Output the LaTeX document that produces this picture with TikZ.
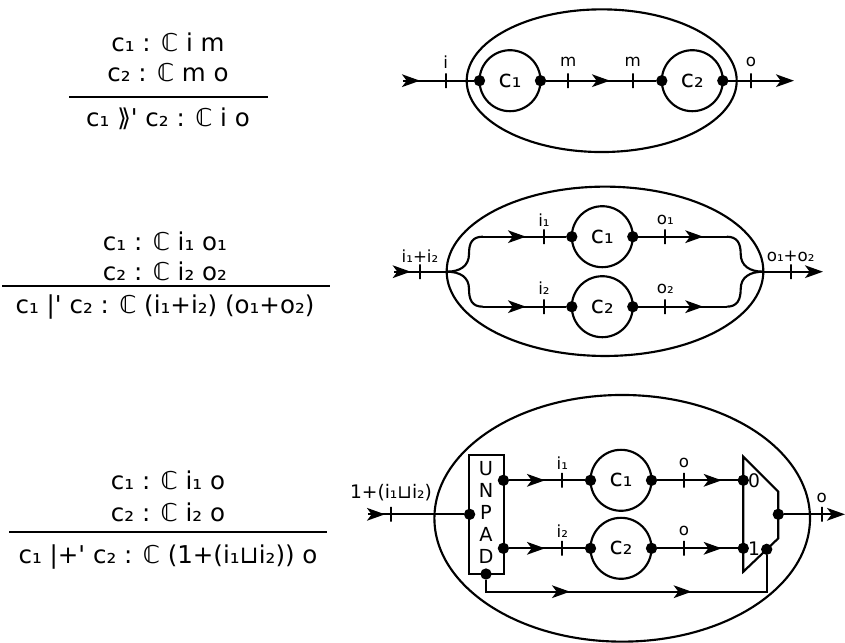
\documentclass[tikz,border=0pt]{standalone}
\usepackage{fontspec}
\setmainfont{DejaVu Sans}
\usetikzlibrary{arrows.meta,shapes.geometric}

\tikzset{
  wire/.style={line width=1.6pt},
  arr/.style={wire,-{Stealth[length=13.5pt,width=9.5pt,inset=3.5pt]}},
  blob/.style={circle,draw,line width=1.6pt,minimum size=45.75pt,inner sep=0pt,outer sep=0pt,font=\fontsize{18}{21}\selectfont},
  outer/.style={ellipse,draw,line width=1.6pt,inner sep=0pt,outer sep=0pt},
  port/.style={circle,fill=black,inner sep=0pt,outer sep=0pt,minimum size=8.5pt},
  tick/.style={rectangle,draw,line width=1.6pt,inner sep=0pt,outer sep=0pt,minimum width=0pt,minimum height=11pt},
  lab/.style={inner sep=0pt,font=\fontsize{12.5}{14}\selectfont},
  rule/.style={line width=1.6pt},
  judge/.style={inner sep=0pt,font=\fontsize{18.4}{22}\selectfont}
}

\begin{document}
\begin{tikzpicture}[x=0.75pt,y=-0.75pt]
\useasboundingbox (0,0) rectangle (845,642);

% first rule
\node[judge] (ta) at (168,42) {c₁ : ℂ i m};
\node[judge] (tb) at (168,73) {c₂ : ℂ m o};
\node[judge] (tc) at (168,119) {c₁ ⟫\textquotesingle{} c₂ : ℂ i o};
\coordinate (tl) at (69,97);
\coordinate (tr) at (268,97);
\draw[rule] (tl) -- (tr);

% second rule
\node[judge] (ua) at (165,241) {c₁ : ℂ i₁ o₁};
\node[judge] (ub) at (165,271) {c₂ : ℂ i₂ o₂};
\node[judge] (uc) at (165,307) {c₁ |\textquotesingle{} c₂ : ℂ (i₁+i₂) (o₁+o₂)};
\coordinate (ul) at (2,286);
\coordinate (ur) at (330,286);
\draw[rule] (ul) -- (ur);

% third rule
\node[judge] (va) at (168,480) {c₁ : ℂ i₁ o};
\node[judge] (vb) at (168,512) {c₂ : ℂ i₂ o};
\node[judge] (vc) at (168,557) {c₁ |+\textquotesingle{} c₂ : ℂ (1+(i₁⊔i₂)) o};
\coordinate (vl) at (9,532);
\coordinate (vr) at (327,532);
\draw[rule] (vl) -- (vr);

% sequence
\node[outer,minimum width=202.5pt,minimum height=107pt] (e1) at (601.7,80.7) {};
\node[blob] (a1) at (510,80.7) {c₁};
\node[blob] (a2) at (692.3,80.7) {c₂};
\node[port] (a1in) at (a1.west) {};
\node[port] (a1out) at (a1.east) {};
\node[port] (a2in) at (a2.west) {};
\node[port] (a2out) at (a2.east) {};
\coordinate (as) at (403,80.7);
\coordinate (at) at (420,80.7);
\coordinate (am) at (610,80.7);
\coordinate (ae) at (794,80.7);
\draw[wire] (as) -- (a1in);
\draw[arr] (as) -- (at);
\draw[wire] (a1out) -- (a2in);
\draw[arr] (a1out) -- (am);
\draw[arr] (a2out) -- (ae);
\node[tick] (ati) at (445.7,80.7) {};
\node[tick] (atm) at (568.3,80.7) {};
\node[tick] (atn) at (632.7,80.7) {};
\node[tick] (ato) at (751,80.7) {};
\node[lab] (ali) at (445.7,62) {i};
\node[lab] (alm) at (568.3,62) {m};
\node[lab] (aln) at (632.7,62) {m};
\node[lab] (alo) at (751,62) {o};

% parallel
\node[outer,minimum width=237.5pt,minimum height=127pt] (e2) at (605,271.3) {};
\node[blob] (b1) at (602.3,236.7) {c₁};
\node[blob] (b2) at (602.3,306.7) {c₂};
\node[port] (b1in) at (b1.west) {};
\node[port] (b1out) at (b1.east) {};
\node[port] (b2in) at (b2.west) {};
\node[port] (b2out) at (b2.east) {};
\coordinate (bs) at (394,271.7);
\coordinate (bt) at (410.7,271.7);
\coordinate (bj) at (446.7,271.7);
\coordinate (bk) at (763.3,271.7);
\coordinate (be) at (823,271.7);
\coordinate (bu) at (483,236.7);
\coordinate (bd) at (483,306.7);
\coordinate (bua) at (526,236.7);
\coordinate (bda) at (526,306.7);
\coordinate (bub) at (703.3,236.7);
\coordinate (bdb) at (703.3,306.7);
\coordinate (bur) at (726.7,236.7);
\coordinate (bdr) at (726.7,306.7);
\draw[wire] (bs) -- (bj);
\draw[arr] (bs) -- (bt);
\draw[wire] (bj) .. controls (460,271.7) and (469,266) .. (469,254) .. controls (469,243) and (472,236.7) .. (bu);
\draw[wire] (bj) .. controls (460,271.7) and (469,277) .. (469,289) .. controls (469,300) and (472,306.7) .. (bd);
\draw[wire] (bu) -- (b1in);
\draw[arr] (bu) -- (bua);
\draw[wire] (bd) -- (b2in);
\draw[arr] (bd) -- (bda);
\draw[wire] (b1out) -- (bur);
\draw[arr] (b1out) -- (bub);
\draw[wire] (b2out) -- (bdr);
\draw[arr] (b2out) -- (bdb);
\draw[wire] (bur) .. controls (737,236.7) and (740.7,243) .. (740.7,254) .. controls (740.7,266) and (750,271.7) .. (bk);
\draw[wire] (bdr) .. controls (737,306.7) and (740.7,300) .. (740.7,289) .. controls (740.7,277) and (750,271.7) .. (bk);
\draw[arr] (bk) -- (be);
\node[tick] (bti) at (420,271.7) {};
\node[tick] (bto) at (790.7,271.7) {};
\node[tick] (bta) at (544,236.7) {};
\node[tick] (btb) at (544,306.7) {};
\node[tick] (btc) at (665.3,236.7) {};
\node[tick] (btd) at (665.3,306.7) {};
\node[lab] (bli) at (420,256) {i₁+i₂};
\node[lab] (blo) at (790.7,256) {o₁+o₂};
\node[lab] (bla) at (544,220) {i₁};
\node[lab] (blb) at (544,288.5) {i₂};
\node[lab] (blc) at (665.3,220) {o₁};
\node[lab] (bld) at (665.3,288.5) {o₂};

% padded sum
\node[outer,minimum width=281.7pt,minimum height=185pt] (e3) at (622.2,518.3) {};
\node[rectangle,draw,line width=1.6pt,minimum width=25.8pt,minimum height=89.25pt,inner sep=0pt,outer sep=0pt] (unpad) at (486.5,514.5) {};
\node[inner sep=0pt,align=center,font=\fontsize{14.5}{16.5}\selectfont] (unpadtxt) at (486,512.5) {U\\N\\P\\A\\D};
\node[blob] (c1) at (621,480.3) {c₁};
\node[blob] (c2) at (621,548.3) {c₂};
\coordinate (m1) at (743.3,456.7);
\coordinate (m2) at (778.3,491.7);
\coordinate (m3) at (778.3,538.3);
\coordinate (m4) at (743.3,571.7);
\draw[wire,line join=miter] (m1) -- (m2) -- (m3) -- (m4) -- cycle;
\node[port] (uin) at (469.6,514.3) {};
\node[port] (uup) at (503.4,480.3) {};
\node[port] (udn) at (503.4,548.3) {};
\node[port] (utg) at (486,574) {};
\node[port] (c1in) at (c1.west) {};
\node[port] (c1out) at (c1.east) {};
\node[port] (c2in) at (c2.west) {};
\node[port] (c2out) at (c2.east) {};
\node[port] (mza) at (743.3,480.3) {};
\node[port] (mzb) at (743.3,548.3) {};
\node[port] (mzo) at (778.3,514.3) {};
\node[port] (mzs) at (766.7,549.3) {};
\coordinate (cs) at (368,514.3);
\coordinate (ct) at (385,514.3);
\coordinate (ce) at (845,514.3);
\coordinate (cua) at (545,480.3);
\coordinate (cda) at (545,548.3);
\coordinate (cub) at (721.7,480.3);
\coordinate (cdb) at (721.7,548.3);
\coordinate (cc) at (486,591.7);
\coordinate (cf) at (570,591.7);
\coordinate (cg) at (691.7,591.7);
\coordinate (ch) at (766.7,591.7);
\draw[wire] (cs) -- (uin);
\draw[arr] (cs) -- (ct);
\draw[wire] (uup) -- (c1in);
\draw[arr] (uup) -- (cua);
\draw[wire] (udn) -- (c2in);
\draw[arr] (udn) -- (cda);
\draw[wire] (c1out) -- (mza);
\draw[arr] (c1out) -- (cub);
\draw[wire] (c2out) -- (mzb);
\draw[arr] (c2out) -- (cdb);
\draw[arr] (mzo) -- (ce);
\draw[wire,line join=miter] (utg) -- (cc) -- (ch) -- (mzs);
\draw[arr] (cc) -- (cf);
\draw[arr] (cf) -- (cg);
\node[tick] (cti) at (390.7,514.3) {};
\node[tick] (cto) at (821.7,514.3) {};
\node[tick] (cta) at (562.3,480.3) {};
\node[tick] (ctb) at (562.3,548.3) {};
\node[tick] (ctc) at (684,480.3) {};
\node[tick] (ctd) at (684,548.3) {};
\node[lab,font=\fontsize{14}{16}\selectfont] (cli) at (391,493) {1+(i₁⊔i₂)};
\node[lab] (clo) at (821.7,498) {o};
\node[lab] (cla) at (562.3,463) {i₁};
\node[lab] (clb) at (562.3,531) {i₂};
\node[lab] (clc) at (684,463) {o};
\node[lab] (cld) at (684,531) {o};
\node[lab,font=\fontsize{14}{16}\selectfont] (mlz) at (754,481) {0};
\node[lab,font=\fontsize{14}{16}\selectfont] (mlo) at (754,549) {1};

\end{tikzpicture}
\end{document}
